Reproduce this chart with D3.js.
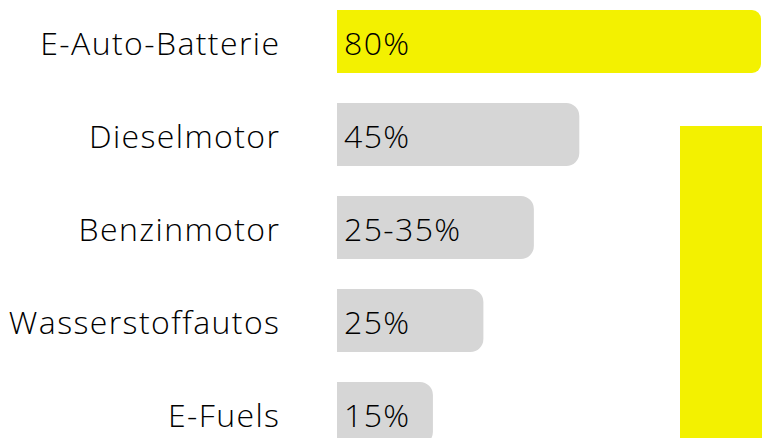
<!DOCTYPE html>
<html><head><meta charset="utf-8">
<script src="https://cdn.jsdelivr.net/npm/d3@7"></script>
<style>html,body{margin:0;padding:0;background:#fff;overflow:hidden}</style>
</head><body>
<svg id="c" width="762" height="438"></svg>
<script>
const categories = ["E-Auto-Batterie", "Dieselmotor", "Benzinmotor", "Wasserstoffautos", "E-Fuels"];
const values = [80, 44, 35, 25, 15];
const valueLabels = ["80%", "45%", "25-35%", "25%", "15%"];
const highlight = [true, false, false, false, false];

const svg = d3.select("#c");
const W = 762, H = 438;
const x0 = 337, x1 = 761;
const x = d3.scaleLinear().domain([-4, 80]).range([0, x1 - x0]);
const y = d3.scaleBand().domain(categories).range([10, 445]).paddingInner(30 / 93).paddingOuter(0);

const yellow = "#f3f100", grey = "#d6d6d6";
const font = "'Open Sans', sans-serif";
const fs = 32, fw = 350, ls = 1.4;

// decorative yellow block
svg.append("rect").attr("x", 680).attr("y", 126).attr("width", W - 680).attr("height", H - 126).attr("fill", yellow);

function barPath(w, h, r) {
  r = Math.min(r, w, h / 2);
  return `M0,0H${w - r}A${r},${r} 0 0 1 ${w},${r}V${h - r}A${r},${r} 0 0 1 ${w - r},${h}H0Z`;
}

const g = svg.append("g");
const rows = g.selectAll("g.row").data(categories).join("g")
  .attr("class", "row")
  .attr("transform", d => `translate(${x0},${y(d)})`);

rows.append("path")
  .attr("d", (d, i) => barPath(x(values[i]), y.bandwidth(), i === 0 ? 9 : 13))
  .attr("fill", (d, i) => highlight[i] ? yellow : grey);

rows.append("text")
  .attr("x", 7)
  .attr("y", y.bandwidth() / 2 + 13)
  .attr("font-family", font)
  .attr("font-size", fs)
  .attr("font-weight", fw)
  .attr("letter-spacing", ls)
  .attr("fill", "#000")
  .text((d, i) => valueLabels[i]);

svg.selectAll("text.cat").data(categories).join("text")
  .attr("class", "cat")
  .attr("x", 279 + ls)
  .attr("y", d => y(d) + y.bandwidth() / 2 + 13)
  .attr("text-anchor", "end")
  .attr("font-family", font)
  .attr("font-size", fs)
  .attr("font-weight", fw)
  .attr("letter-spacing", ls)
  .attr("fill", "#000")
  .text(d => d);
</script>
</body></html>
